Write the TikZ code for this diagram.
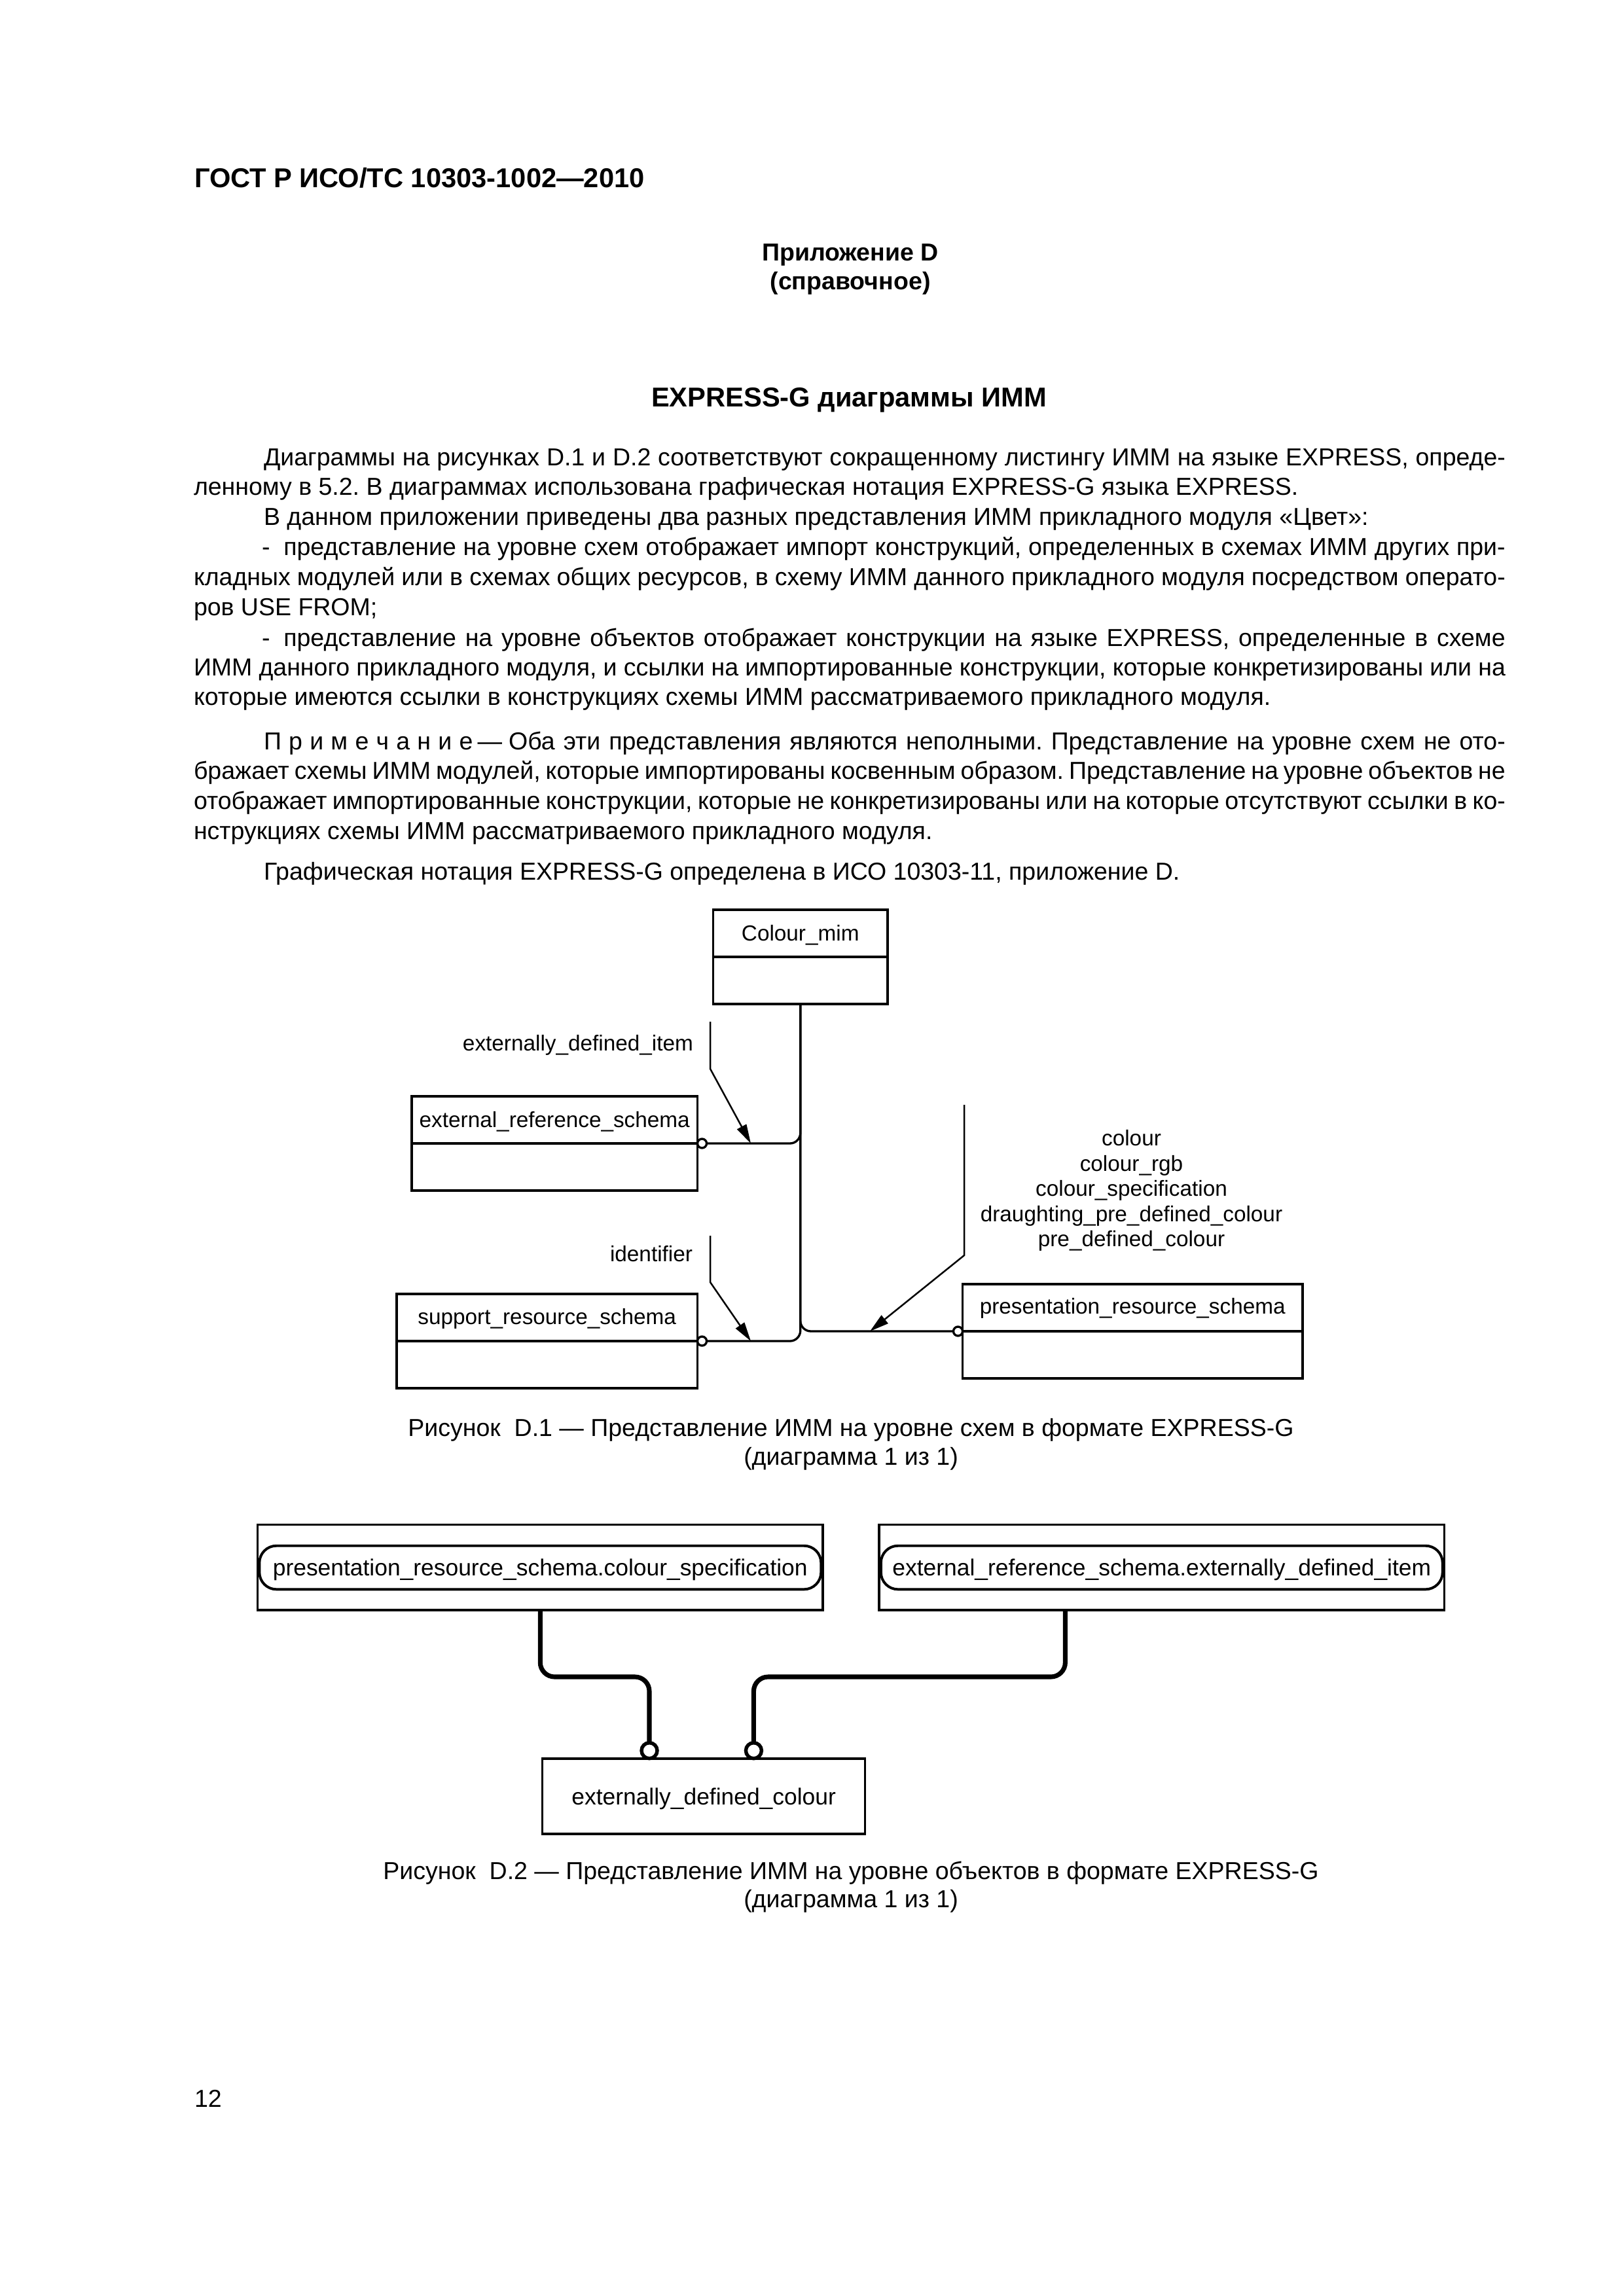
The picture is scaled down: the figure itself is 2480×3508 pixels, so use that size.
\documentclass[tikz,border=0pt]{standalone}
\usepackage{fontspec}
\setmainfont{Liberation Sans}
\usetikzlibrary{arrows.meta}
\def\u{0.240031pt}
\newcommand\jline[2]{\makebox[#1][s]{\spaceskip=0.278em plus 0.5em minus 0.15em\relax#2}}
\frenchspacing
\begin{document}
\begin{tikzpicture}[x={(0.240031pt,0)}, y={(0,-0.240031pt)},
  every node/.style={inner sep=0pt, outer sep=0pt},
  body/.style={font=\fontsize{9pt}{11pt}\selectfont\frenchspacing, anchor=base west},
  capt/.style={font=\fontsize{9pt}{11pt}\selectfont, anchor=base},
  f1/.style={font=\fontsize{8pt}{9.6pt}\selectfont},
  f2/.style={font=\fontsize{8.5pt}{10pt}\selectfont},
  sbox/.style={draw, line width=0.8pt, rectangle},
  ocirc/.style={draw, circle, line width=0.8pt, minimum size=14*\u, fill=white},
  ocircb/.style={draw, circle, line width=1.3pt, minimum size=24*\u, fill=white},
  conn/.style={line width=0.8pt, rounded corners=16*\u},
  labarrow/.style={line width=0.6pt, -{Triangle[length=7pt,width=3.8pt]}},
  thickconn/.style={line width=1.7pt, rounded corners=22*\u},
  pill/.style={draw, line width=0.95pt, rounded corners=26*\u, minimum width=858*\u, minimum height=66.6*\u, text height=6.1pt, text depth=0pt, f2},
]
\useasboundingbox (0,0) rectangle (2480,3508);
\fill[white] (0,0) rectangle (2480,3508);

% ---------- header ----------
\node[font=\fontsize{10pt}{12pt}\selectfont\bfseries, anchor=base west] (hdr) at (297,286) {ГОСТ Р ИСО/ТС 10303-1002—2010};
\node[font=\fontsize{9pt}{11pt}\selectfont\bfseries, anchor=base] (annex) at (1299,398) {Приложение D};
\node[font=\fontsize{9pt}{11pt}\selectfont\bfseries, anchor=base] (annexb) at (1299,442) {(справочное)};
\node[font=\fontsize{10pt}{12pt}\selectfont\bfseries, anchor=base] (title) at (1297,621) {EXPRESS-G диаграммы ИММ};

% ---------- body ----------
\node[body] (t1) at (403,711) {\jline{455.3pt}{Диаграммы на рисунках D.1 и D.2 соответствуют сокращенному листингу ИММ на языке EXPRESS, опреде-}};
\node[body] (t2) at (296,756) {ленному в 5.2. В диаграммах использована графическая нотация EXPRESS-G языка EXPRESS.};
\node[body] (t3) at (403,802) {В данном приложении приведены два разных представления ИММ прикладного модуля «Цвет»:};
\node[body] (t4) at (400,848) {\jline{456pt}{-\hspace{5pt}представление на уровне схем отображает импорт конструкций, определенных в схемах ИММ других при-}};
\node[body] (t5) at (296,894) {\jline{481pt}{кладных модулей или в схемах общих ресурсов, в схему ИММ данного прикладного модуля посредством операто-}};
\node[body] (t6) at (296,940) {ров USE FROM;};
\node[body] (t7) at (400,987) {\jline{456pt}{-\hspace{5pt}представление на уровне объектов отображает конструкции на языке EXPRESS, определенные в схеме}};
\node[body] (t8) at (296,1032) {\jline{481pt}{ИММ данного прикладного модуля, и ссылки на импортированные конструкции, которые конкретизированы или на}};
\node[body] (t9) at (296,1077) {которые имеются ссылки в конструкциях схемы ИММ рассматриваемого прикладного модуля.};
\node[body] (t10) at (403,1145) {\jline{455.3pt}{П\kern2.7pt р\kern2.7pt и\kern2.7pt м\kern2.7pt е\kern2.7pt ч\kern2.7pt а\kern2.7pt н\kern2.7pt и\kern2.7pt е\hspace{1.7pt}—\hspace{2.4pt}Оба эти представления являются неполными. Представление на уровне схем не ото-}};
\node[body] (t11) at (296,1190) {\jline{481pt}{бражает схемы ИММ модулей, которые импортированы косвенным образом. Представление на уровне объектов не}};
\node[body] (t12) at (296,1236) {\jline{481pt}{отображает импортированные конструкции, которые не конкретизированы или на которые отсутствуют ссылки в ко-}};
\node[body] (t13) at (296,1282) {нструкциях схемы ИММ рассматриваемого прикладного модуля.};
\node[body] (t14) at (403,1344) {Графическая нотация EXPRESS-G определена в ИСО 10303-11, приложение D.};

% ---------- Figure D.1 ----------
\node[sbox, minimum width=266.5*\u, minimum height=144*\u] (cm) at (1222.75,1462) {};
\draw[line width=0.8pt] (cm.west) -- (cm.east);
\node[f1, anchor=base] (cmt) at (1222.75,1437) {Colour\_mim};

\node[sbox, minimum width=436.5*\u, minimum height=144*\u] (ers) at (847.25,1747) {};
\draw[line width=0.8pt] (ers.west) -- (ers.east);
\node[f1, anchor=base] (erst) at (847.25,1722) {external\_reference\_schema};

\node[sbox, minimum width=459.5*\u, minimum height=144*\u] (srs) at (835.75,2049) {};
\draw[line width=0.8pt] (srs.west) -- (srs.east);
\node[f1, anchor=base] (srst) at (835.75,2023) {support\_resource\_schema};

\node[sbox, minimum width=519.5*\u, minimum height=144*\u] (prs) at (1730.25,2034) {};
\draw[line width=0.8pt] (prs.west) -- (prs.east);
\node[f1, anchor=base] (prst) at (1730.25,2007) {presentation\_resource\_schema};

\node[ocirc, anchor=west] (c1) at (ers.east) {};
\node[ocirc, anchor=west] (c2) at (srs.east) {};
\node[ocirc, anchor=east] (c3) at (prs.west) {};

\draw[conn] (cm.south) |- (c3.west);
\draw[conn] (cm.south) |- (c1.east);
\draw[conn] (cm.south) |- (c2.east);

\node[f1, anchor=base east] (l1) at (1059,1605) {externally\_defined\_item};
\coordinate (a1s) at (1085,1561);
\coordinate (a1b) at (1085,1633);
\coordinate (a1t) at (1147,1747);
\draw[labarrow] (a1s) -- (a1b) -- (a1t);

\node[f1, anchor=base east] (l2) at (1058,1927) {identifier};
\coordinate (a2s) at (1085,1888);
\coordinate (a2b) at (1085,1959);
\coordinate (a2t) at (1147,2049);
\draw[labarrow] (a2s) -- (a2b) -- (a2t);

\node[f1, anchor=base] (l3a) at (1728.5,1750.5) {colour};
\node[f1, anchor=base] (l3b) at (1728.5,1789) {colour\_rgb};
\node[f1, anchor=base] (l3c) at (1728.5,1827.5) {colour\_specification};
\node[f1, anchor=base] (l3d) at (1728.5,1866) {draughting\_pre\_defined\_colour};
\node[f1, anchor=base] (l3e) at (1728.5,1904.5) {pre\_defined\_colour};
\coordinate (a3s) at (1473,1688);
\coordinate (a3b) at (1473,1918);
\coordinate (a3t) at (1329,2034);
\draw[labarrow] (a3s) -- (a3b) -- (a3t);

\node[capt] (cap1) at (1300,2194) {Рисунок\ \ D.1 — Представление ИММ на уровне схем в формате EXPRESS-G};
\node[capt] (cap1b) at (1300,2238) {(диаграмма 1 из 1)};

% ---------- Figure D.2 ----------
\node[sbox, line width=0.85pt, minimum width=863.4*\u, minimum height=130.7*\u] (b1) at (825.3,2394.65) {};
\node[pill] (p1) at (825.3,2395) {presentation\_resource\_schema.colour\_specification};
\node[sbox, line width=0.85pt, minimum width=863.6*\u, minimum height=130.7*\u] (b2) at (1774.8,2394.65) {};
\node[pill] (p2) at (1774.8,2395) {external\_reference\_schema.externally\_defined\_item};

\node[sbox, line width=0.85pt, minimum width=492.9*\u, minimum height=115.3*\u, f2, text height=6.1pt, text depth=0pt] (bc) at (1075.15,2744.35) {externally\_defined\_colour};

\coordinate (x1) at (992,0);
\coordinate (x2) at (1151.4,0);
\coordinate (x3) at (1627.4,0);
\node[ocircb, anchor=south] (o1) at (bc.north -| x1) {};
\node[ocircb, anchor=south] (o2) at (bc.north -| x2) {};
\coordinate (j1) at (992,2562);
\coordinate (j2) at (1151.4,2562);
\coordinate (s2) at (b2.south -| x3);
\draw[thickconn] (b1.south) |- (j1) -- (o1.north);
\draw[thickconn] (s2) |- (j2) -- (o2.north);

\node[capt] (cap2) at (1300,2871) {Рисунок\ \ D.2 — Представление ИММ на уровне объектов в формате EXPRESS-G};
\node[capt] (cap2b) at (1300,2914) {(диаграмма 1 из 1)};

% ---------- page number ----------
\node[body] (pg) at (297,3219) {12};
\end{tikzpicture}
\end{document}
